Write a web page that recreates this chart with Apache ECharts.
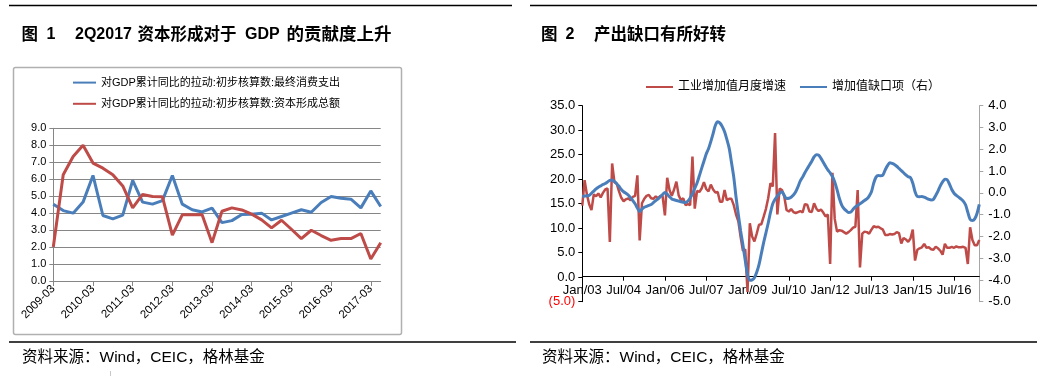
<!DOCTYPE html>
<html><head><meta charset="utf-8">
<script src="https://cdn.jsdelivr.net/npm/echarts@6/dist/echarts.min.js"></script>
<style>html,body{margin:0;padding:0;background:#fff}#c{width:1046px;height:376px}</style>
</head><body><div id="c"></div>
<script>
// ---------- Chart 1 data (quarterly) ----------
const qYears = [2009, 2010, 2011, 2012, 2013, 2014, 2015, 2016, 2017];
const qEnds = ['03', '06', '09', '12'];
const consumption = [4.53, 4.15, 4.0, 4.65, 6.22, 3.86, 3.66, 3.88, 5.93, 4.65,
  4.53, 4.74, 6.22, 4.53, 4.2, 4.07, 4.3, 3.44, 3.56, 3.92,
  3.94, 4.0, 3.6, 3.8, 4.0, 4.2, 4.05, 4.63, 4.98, 4.88,
  4.82, 4.31, 5.31, 4.39];
const capital = [2.0, 6.26, 7.34, 8.0, 6.95, 6.65, 6.26, 5.6, 4.31, 5.1,
  4.98, 4.96, 2.7, 3.9, 3.9, 3.9, 2.26, 4.11, 4.31, 4.19,
  3.94, 3.6, 3.13, 3.58, 3.05, 2.5, 2.99, 2.68, 2.4, 2.5,
  2.5, 2.8, 1.3, 2.26];
const name1a = '对GDP累计同比的拉动:初步核算数:最终消费支出';
const name1b = '对GDP累计同比的拉动:初步核算数:资本形成总额';

// ---------- Chart 2 data (monthly, Jan/03 - Jun/17) ----------
const mYears = ['03','04','05','06','07','08','09','10','11','12','13','14','15','16','17'];
const mNames = ['Jan','Feb','Mar','Apr','May','Jun','Jul','Aug','Sep','Oct','Nov','Dec'];
const iva = [
  14.6, 19.8, 16.9, 14.9, 13.7, 16.9, 16.5, 17.1, 16.3, 17.2, 17.9, 18.1,
  7.2, 23.2, 19.4, 19.1, 17.5, 16.2, 15.5, 15.9, 16.1, 15.7, 16.4, 16.6,
  20.8, 7.5, 15.1, 16.0, 16.6, 16.8, 16.1, 16.0, 16.5, 16.1, 16.6, 16.5,
  12.6, 20.3, 17.8, 16.6, 17.9, 19.5, 16.7, 15.7, 16.1, 14.7, 14.9, 14.7,
  24.6, 14.0, 17.6, 17.4, 18.1, 19.4, 18.0, 17.5, 18.9, 17.9, 17.3, 17.4,
  15.4, 15.4, 17.8, 15.7, 16.0, 16.0, 14.7, 12.8, 11.4, 8.2, 5.4, 5.7,
  -3.0, 11.0, 8.3, 7.3, 8.9, 10.7, 10.8, 12.3, 13.9, 16.1, 19.2, 18.5,
  29.4, 12.8, 18.1, 17.8, 16.5, 13.7, 13.4, 13.9, 13.3, 13.1, 13.3, 13.5,
  13.2, 14.9, 14.8, 13.4, 13.3, 15.1, 14.0, 13.5, 13.8, 13.2, 12.4, 12.8,
  2.7, 21.3, 11.9, 9.3, 9.6, 9.5, 9.2, 8.9, 9.2, 9.6, 10.1, 10.3,
  17.8, 2.0, 8.9, 9.3, 9.2, 8.9, 9.7, 10.4, 10.2, 10.3, 10.0, 9.7,
  8.6, 8.6, 8.8, 8.7, 8.8, 9.2, 9.0, 6.9, 8.0, 7.7, 7.2, 7.9,
  9.7, 3.4, 5.6, 5.9, 6.1, 6.8, 6.0, 6.1, 5.7, 5.6, 6.2, 5.9,
  5.4, 4.6, 6.8, 6.0, 6.0, 6.2, 6.0, 6.3, 6.1, 6.1, 6.2, 6.0,
  2.7, 10.2, 7.6, 6.5, 6.5, 7.6];
const gap = [
  -0.18, -0.15, -0.14, -0.12, -0.02, 0.08, 0.18, 0.26, 0.32, 0.38, 0.43, 0.5,
  0.57, 0.59, 0.52, 0.42, 0.3, 0.15, 0.05, -0.02, -0.1, -0.22, -0.36, -0.5,
  -0.7, -0.86, -0.75, -0.66, -0.62, -0.58, -0.54, -0.45, -0.36, -0.28, -0.18, -0.08,
  0.02, -0.06, -0.18, -0.28, -0.32, -0.35, -0.38, -0.41, -0.43, -0.44, -0.38, -0.24,
  -0.05, 0.2, 0.45, 0.78, 1.12, 1.45, 1.78, 2.02, 2.35, 2.72, 3.1, 3.26,
  3.2, 3.04, 2.8, 2.45, 2.05, 1.4, 0.72, -0.2, -1.0, -1.75, -2.4, -3.1,
  -3.75, -4.02, -4.0, -3.9, -3.65, -3.3, -2.8, -2.3, -1.85, -1.4, -0.9, -0.5,
  -0.3, -0.15, -0.02, 0.05, -0.12, -0.26, -0.25, -0.2, -0.1, 0.05, 0.28, 0.55,
  0.72, 0.92, 1.1, 1.28, 1.45, 1.65, 1.75, 1.73, 1.58, 1.4, 1.22, 1.05,
  0.92, 0.75, 0.5, 0.15, -0.25, -0.55, -0.72, -0.82, -0.9, -0.88, -0.76, -0.65,
  -0.58, -0.5, -0.43, -0.35, -0.28, -0.15, 0.05, 0.45, 0.72, 0.8, 0.78, 0.82,
  1.05, 1.25, 1.38, 1.35, 1.3, 1.22, 1.12, 1.02, 0.92, 0.82, 0.74, 0.7,
  0.45, 0.05, -0.17, -0.18, -0.17, -0.2, -0.25, -0.3, -0.33, -0.3, -0.12, 0.08,
  0.32, 0.5, 0.62, 0.6, 0.4, 0.15, -0.02, -0.12, -0.2, -0.28, -0.38, -0.55,
  -0.9, -1.22, -1.27, -1.2, -0.95, -0.53];
const name2a = '工业增加值月度增速';
const name2b = '增加值缺口项（右）';

// ---------- build categories ----------
const quarters = [];
qYears.forEach(y => qEnds.forEach(e => quarters.push(y + '-' + e)));
quarters.length = consumption.length;
const months = [];
mYears.forEach(y => mNames.forEach(m => months.push(m + '/' + y)));
months.length = iva.length;

const FONT = "'Liberation Sans', 'Noto Sans CJK SC', sans-serif";
const BLUE = '#4A7EBB', RED = '#BE4B48';
const fmt1 = v => v.toFixed(1);
const T = (x, y, text, size, bold) => ({type: 'text', x: x, y: y,
  style: {text: text, fontSize: size, fontWeight: bold ? 'bold' : 'normal', fontFamily: FONT, fill: '#000', verticalAlign: 'middle'}});

const chart = echarts.init(document.getElementById('c'), null, {renderer: 'canvas'});
chart.setOption({
  animation: false,
  backgroundColor: '#fff',
  textStyle: {fontFamily: FONT},
  grid: [
    {left: 53.3, right: 665.3, top: 128.3, bottom: 95, containLabel: false, outerBoundsMode: 'none'},
    {left: 582.3, right: 66.7, top: 105.7, bottom: 74.3, containLabel: false, outerBoundsMode: 'none'},
    {left: 582.3, right: 66.7, top: 105.7, bottom: 99.3, containLabel: false, outerBoundsMode: 'none'}
  ],
  legend: [
    {data: [name1a, name1b], orient: 'vertical', left: 72, top: 77, itemWidth: 23, itemHeight: 14, itemGap: 10,
     padding: 0, itemStyle: {opacity: 0}, textStyle: {fontSize: 11, color: '#000', fontFamily: FONT}},
    {data: [name2a, name2b], orient: 'horizontal', left: 645, top: 81, itemWidth: 27, itemHeight: 12, itemGap: 13,
     padding: 0, itemStyle: {opacity: 0}, textStyle: {fontSize: 12, color: '#000', fontFamily: FONT}}
  ],
  xAxis: [
    {type: 'category', gridIndex: 0, data: quarters, boundaryGap: false,
     axisLine: {show: true, lineStyle: {color: '#868686', width: 1}},
     axisTick: {show: true, interval: 3, length: 5, lineStyle: {color: '#868686'}},
     axisLabel: {interval: 3, rotate: 45, fontSize: 11.5, color: '#000', margin: 6, fontFamily: FONT},
     splitLine: {show: false}},
    {type: 'category', gridIndex: 1, data: months, boundaryGap: false,
     axisLine: {show: false}, axisTick: {show: false}, axisLabel: {show: false}, splitLine: {show: false}},
    {type: 'category', gridIndex: 2, data: months, boundaryGap: false, position: 'bottom',
     axisLine: {show: true, onZero: false, lineStyle: {color: '#000', width: 1}},
     axisTick: {show: true, interval: 17, length: 4, lineStyle: {color: '#000'}},
     axisLabel: {interval: 17, fontSize: 13, color: '#000', margin: 7, fontFamily: FONT},
     splitLine: {show: false}}
  ],
  yAxis: [
    {type: 'value', gridIndex: 0, min: 0, max: 9, interval: 1,
     axisLine: {show: true, lineStyle: {color: '#868686'}},
     axisTick: {show: true, length: 4, lineStyle: {color: '#868686'}},
     axisLabel: {formatter: fmt1, fontSize: 11, color: '#000', margin: 7, fontFamily: FONT},
     splitLine: {show: true, lineStyle: {color: '#868686', width: 1}}},
    {type: 'value', gridIndex: 1, position: 'left', min: -5, max: 35, interval: 5,
     axisLine: {show: true, onZero: false, lineStyle: {color: '#000'}},
     axisTick: {show: true, length: 4, lineStyle: {color: '#000'}},
     axisLabel: {fontSize: 13, color: '#000', margin: 7, fontFamily: FONT,
       formatter: v => v < 0 ? '{n|(' + Math.abs(v).toFixed(1) + ')}' : v.toFixed(1),
       rich: {n: {color: '#FF0000', fontSize: 13, fontFamily: FONT}}},
     splitLine: {show: false}},
    {type: 'value', gridIndex: 1, position: 'right', min: -5, max: 4, interval: 1,
     axisLine: {show: true, onZero: false, lineStyle: {color: '#A6A6A6'}},
     axisTick: {show: true, length: 4, lineStyle: {color: '#A6A6A6'}},
     axisLabel: {formatter: fmt1, fontSize: 13, color: '#000', margin: 9, fontFamily: FONT},
     splitLine: {show: false}},
    {type: 'value', gridIndex: 2, show: false, min: 0, max: 1}
  ],
  series: [
    {name: name1a, type: 'line', xAxisIndex: 0, yAxisIndex: 0, data: consumption, symbol: 'none',
     color: BLUE, lineStyle: {color: BLUE, width: 3}},
    {name: name1b, type: 'line', xAxisIndex: 0, yAxisIndex: 0, data: capital, symbol: 'none',
     color: RED, lineStyle: {color: RED, width: 3}},
    {name: name2a, type: 'line', xAxisIndex: 1, yAxisIndex: 1, data: iva, symbol: 'none',
     color: RED, lineStyle: {color: RED, width: 2.5}},
    {name: name2b, type: 'line', xAxisIndex: 1, yAxisIndex: 2, data: gap, symbol: 'none', smooth: 0.3,
     color: BLUE, lineStyle: {color: BLUE, width: 3}}
  ],
  graphic: [
    {type: 'line', shape: {x1: 9, y1: 5.5, x2: 512, y2: 5.5}, style: {stroke: '#000', lineWidth: 1.5}},
    {type: 'line', shape: {x1: 530, y1: 5.5, x2: 1037, y2: 5.5}, style: {stroke: '#000', lineWidth: 1.5}},
    T(21.5, 35, '图', 16.5, true),
    T(46.5, 35, '1', 16, true),
    T(75, 35, '2Q2017', 16, true),
    T(137.5, 35, '资本形成对于', 16.5, true),
    T(245, 35, 'GDP', 16, true),
    T(286.5, 35, '的贡献度上升', 17.5, true),
    T(541, 35, '图', 16.5, true),
    T(565.5, 35, '2', 16, true),
    T(594, 35, '产出缺口有所好转', 16.5, true),
    {type: 'rect', shape: {x: 13.5, y: 67.5, width: 388, height: 267, r: 2}, style: {fill: 'none', stroke: '#B0B0B0', lineWidth: 1.5}},
    {type: 'line', shape: {x1: 9, y1: 342, x2: 516, y2: 342}, style: {stroke: '#000', lineWidth: 1.5}},
    {type: 'line', shape: {x1: 530, y1: 342, x2: 1037, y2: 342}, style: {stroke: '#000', lineWidth: 1.5}},
    T(22, 358, '资料来源：Wind，CEIC，格林基金', 15.5, false),
    T(542, 358, '资料来源：Wind，CEIC，格林基金', 15.5, false),
    {type: 'line', shape: {x1: 110.5, y1: 371, x2: 110.5, y2: 376}, style: {stroke: '#C8C8C8', lineWidth: 1}}
  ]
});
</script>
</body></html>
